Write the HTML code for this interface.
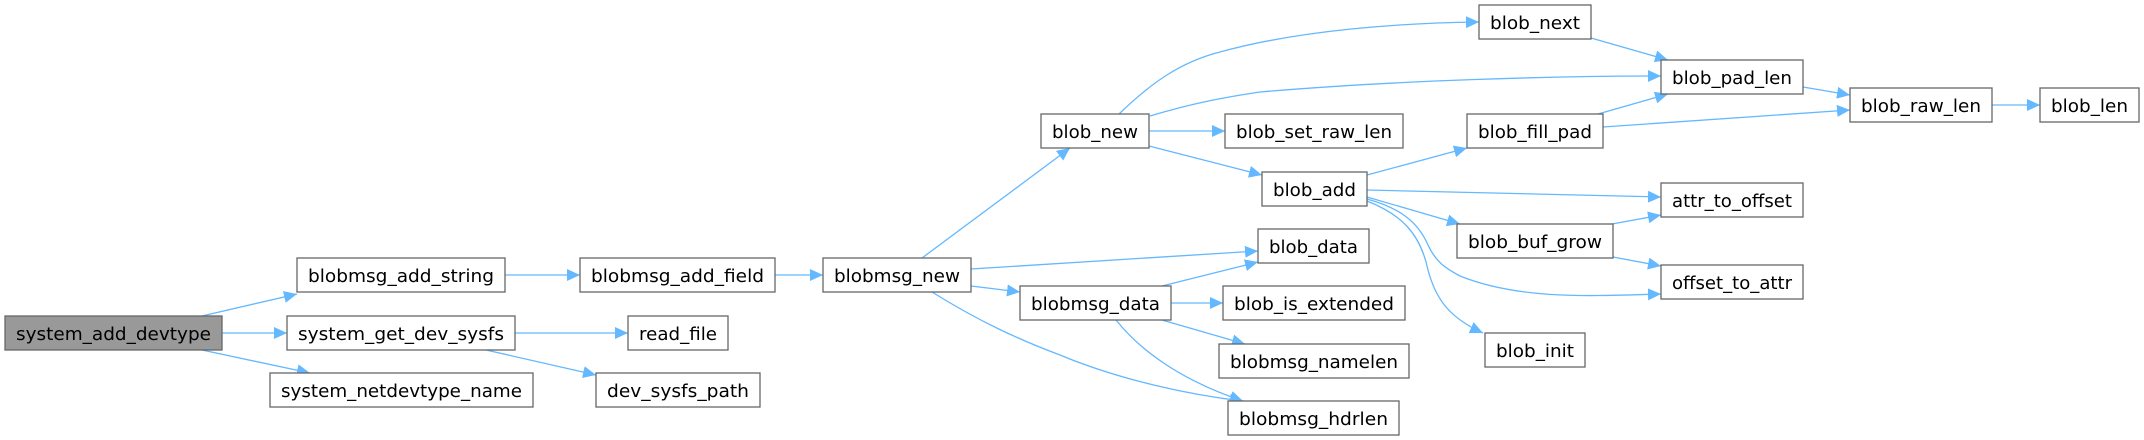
<!DOCTYPE html>
<html><head><meta charset="utf-8"><style>
html,body{margin:0;padding:0;background:#fff;}
svg{display:block;}
text{font-family:"DejaVu Sans","Liberation Sans",sans-serif;font-size:18px;fill:#000;}
.b{fill:#fff;stroke:#666;stroke-width:1.3;}
.e{fill:none;stroke:#63b8ff;stroke-width:1.3;}
</style></head><body>
<svg width="2144" height="440" viewBox="0 0 2144 440" xmlns="http://www.w3.org/2000/svg">
<defs>
<marker id="a" markerUnits="userSpaceOnUse" markerWidth="14" markerHeight="12" refX="13" refY="6" orient="auto">
<path d="M0,0 L13,6 L0,12 z" fill="#63b8ff"/>
</marker>
</defs>
<g class="edges">
<path class="e" marker-end="url(#a)" d="M202,316 L297,294"/>
<path class="e" marker-end="url(#a)" d="M222,333 L287,333"/>
<path class="e" marker-end="url(#a)" d="M202,350 L310,373"/>
<path class="e" marker-end="url(#a)" d="M505,275 L580,275"/>
<path class="e" marker-end="url(#a)" d="M775,275 L823,275"/>
<path class="e" marker-end="url(#a)" d="M515,333 L628,333"/>
<path class="e" marker-end="url(#a)" d="M486,350 L596,375"/>
<path class="e" marker-end="url(#a)" d="M922,258 L1070,148"/>
<path class="e" marker-end="url(#a)" d="M971,269 L1258,251"/>
<path class="e" marker-end="url(#a)" d="M971,286 L1020,292"/>
<path class="e" marker-end="url(#a)" d="M932,292 C980,322 1020,340 1060,355 C1120,380 1190,395 1243,401"/>
<path class="e" marker-end="url(#a)" d="M1162,286 L1258,262"/>
<path class="e" marker-end="url(#a)" d="M1171,303 L1223,303"/>
<path class="e" marker-end="url(#a)" d="M1162,320 L1245,344"/>
<path class="e" marker-end="url(#a)" d="M1116,320 C1140,350 1180,380 1243,401"/>
<path class="e" marker-end="url(#a)" d="M1119,114 C1150,84 1180,62 1220,52 C1300,30 1400,23 1479,22"/>
<path class="e" marker-end="url(#a)" d="M1150,116 C1190,104 1220,98 1260,92 C1400,80 1560,76 1661,76"/>
<path class="e" marker-end="url(#a)" d="M1149,131 L1225,131"/>
<path class="e" marker-end="url(#a)" d="M1149,146 L1262,175"/>
<path class="e" marker-end="url(#a)" d="M1591,38 L1668,60"/>
<path class="e" marker-end="url(#a)" d="M1598,114 L1668,94"/>
<path class="e" marker-end="url(#a)" d="M1603,127 L1850,110"/>
<path class="e" marker-end="url(#a)" d="M1803,87 L1850,95"/>
<path class="e" marker-end="url(#a)" d="M1992,105 L2040,105"/>
<path class="e" marker-end="url(#a)" d="M1367,175 L1467,148"/>
<path class="e" marker-end="url(#a)" d="M1367,190 L1661,197"/>
<path class="e" marker-end="url(#a)" d="M1367,197 L1460,224"/>
<path class="e" marker-end="url(#a)" d="M1367,199 C1400,208 1418,222 1428,245 C1436,262 1445,268 1460,276 C1520,300 1590,296 1661,294"/>
<path class="e" marker-end="url(#a)" d="M1367,201 C1400,214 1420,232 1428,270 C1436,300 1450,318 1483,333"/>
<path class="e" marker-end="url(#a)" d="M1612,224 L1661,215"/>
<path class="e" marker-end="url(#a)" d="M1613,257 L1661,266"/>
</g>
<g>
<rect x="5" y="316" width="217" height="34" fill="#999" stroke="#666" stroke-width="1.3"/>
<text x="113.5" y="340" text-anchor="middle" textLength="195" lengthAdjust="spacingAndGlyphs">system_add_devtype</text>
<rect class="b" x="297" y="258" width="208" height="34"/><text x="401" y="282" text-anchor="middle" textLength="186" lengthAdjust="spacingAndGlyphs">blobmsg_add_string</text>
<rect class="b" x="287" y="316" width="228" height="34"/><text x="401" y="340" text-anchor="middle" textLength="206" lengthAdjust="spacingAndGlyphs">system_get_dev_sysfs</text>
<rect class="b" x="270" y="373" width="263" height="34"/><text x="401.5" y="397" text-anchor="middle" textLength="241" lengthAdjust="spacingAndGlyphs">system_netdevtype_name</text>
<rect class="b" x="580" y="258" width="195" height="34"/><text x="677.5" y="282" text-anchor="middle" textLength="173" lengthAdjust="spacingAndGlyphs">blobmsg_add_field</text>
<rect class="b" x="628" y="316" width="100" height="34"/><text x="678" y="340" text-anchor="middle" textLength="78" lengthAdjust="spacingAndGlyphs">read_file</text>
<rect class="b" x="596" y="373" width="164" height="34"/><text x="678" y="397" text-anchor="middle" textLength="142" lengthAdjust="spacingAndGlyphs">dev_sysfs_path</text>
<rect class="b" x="823" y="258" width="148" height="34"/><text x="897" y="282" text-anchor="middle" textLength="126" lengthAdjust="spacingAndGlyphs">blobmsg_new</text>
<rect class="b" x="1041" y="114" width="108" height="34"/><text x="1095" y="138" text-anchor="middle" textLength="86" lengthAdjust="spacingAndGlyphs">blob_new</text>
<rect class="b" x="1020" y="286" width="151" height="34"/><text x="1095.5" y="310" text-anchor="middle" textLength="129" lengthAdjust="spacingAndGlyphs">blobmsg_data</text>
<rect class="b" x="1225" y="114" width="178" height="34"/><text x="1314" y="138" text-anchor="middle" textLength="156" lengthAdjust="spacingAndGlyphs">blob_set_raw_len</text>
<rect class="b" x="1262" y="172" width="105" height="34"/><text x="1314.5" y="196" text-anchor="middle" textLength="83" lengthAdjust="spacingAndGlyphs">blob_add</text>
<rect class="b" x="1258" y="229" width="111" height="34"/><text x="1313.5" y="253" text-anchor="middle" textLength="89" lengthAdjust="spacingAndGlyphs">blob_data</text>
<rect class="b" x="1223" y="286" width="182" height="34"/><text x="1314" y="310" text-anchor="middle" textLength="160" lengthAdjust="spacingAndGlyphs">blob_is_extended</text>
<rect class="b" x="1219" y="344" width="190" height="34"/><text x="1314" y="368" text-anchor="middle" textLength="168" lengthAdjust="spacingAndGlyphs">blobmsg_namelen</text>
<rect class="b" x="1228" y="401" width="171" height="34"/><text x="1313.5" y="425" text-anchor="middle" textLength="149" lengthAdjust="spacingAndGlyphs">blobmsg_hdrlen</text>
<rect class="b" x="1479" y="5" width="112" height="34"/><text x="1535" y="29" text-anchor="middle" textLength="90" lengthAdjust="spacingAndGlyphs">blob_next</text>
<rect class="b" x="1467" y="114" width="136" height="34"/><text x="1535" y="138" text-anchor="middle" textLength="114" lengthAdjust="spacingAndGlyphs">blob_fill_pad</text>
<rect class="b" x="1457" y="224" width="156" height="34"/><text x="1535" y="248" text-anchor="middle" textLength="134" lengthAdjust="spacingAndGlyphs">blob_buf_grow</text>
<rect class="b" x="1485" y="333" width="100" height="34"/><text x="1535" y="357" text-anchor="middle" textLength="78" lengthAdjust="spacingAndGlyphs">blob_init</text>
<rect class="b" x="1661" y="60" width="142" height="34"/><text x="1732" y="84" text-anchor="middle" textLength="120" lengthAdjust="spacingAndGlyphs">blob_pad_len</text>
<rect class="b" x="1661" y="183" width="142" height="34"/><text x="1732" y="207" text-anchor="middle" textLength="120" lengthAdjust="spacingAndGlyphs">attr_to_offset</text>
<rect class="b" x="1661" y="265" width="142" height="34"/><text x="1732" y="289" text-anchor="middle" textLength="120" lengthAdjust="spacingAndGlyphs">offset_to_attr</text>
<rect class="b" x="1850" y="88" width="142" height="34"/><text x="1921" y="112" text-anchor="middle" textLength="120" lengthAdjust="spacingAndGlyphs">blob_raw_len</text>
<rect class="b" x="2040" y="88" width="99" height="34"/><text x="2089.5" y="112" text-anchor="middle" textLength="77" lengthAdjust="spacingAndGlyphs">blob_len</text>
</g>
</svg>
</body></html>
